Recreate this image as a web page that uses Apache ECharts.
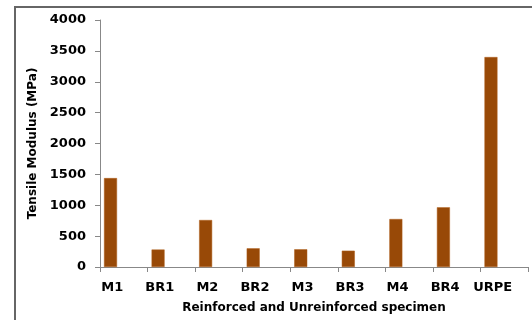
<!DOCTYPE html>
<html>
<head>
<meta charset="utf-8">
<script src="https://cdn.jsdelivr.net/npm/echarts@6/dist/echarts.min.js"></script>
<style>
  html, body { margin: 0; padding: 0; background: #fff; }
  #frame { position: absolute; left: 14px; top: 6px; width: 600px; height: 400px;
           border-top: 2px solid #666; border-left: 2px solid #666; }
  #chart { position: absolute; left: 0; top: 0; width: 532px; height: 320px; }
</style>
</head>
<body>
<div id="frame"></div>
<div id="chart"></div>
<script>
// specimens and measured tensile modulus (MPa)
const specimens = ['M1', 'BR1', 'M2', 'BR2', 'M3', 'BR3', 'M4', 'BR4', 'URPE']
const modulus = [1440, 283, 761, 303, 287, 264, 777, 967, 3400]
const emptySeries = ['-', '-', '-', '-', '-', '-', '-', '-', '-']

const myChart = echarts.init(document.getElementById('chart'))

const axisFont = {
  fontFamily: 'DejaVu Sans',
  fontWeight: 'bold',
  fontSize: 12,
  color: '#000'
}

myChart.setOption({
  animation: false,
  grid: { left: 100, right: 4, top: 20, bottom: 53 },
  xAxis: {
    type: 'category',
    data: specimens,
    name: 'Reinforced and Unreinforced specimen',
    nameLocation: 'middle',
    nameGap: 35,
    nameTextStyle: { ...axisFont },
    axisLine: { lineStyle: { color: '#888', width: 1 } },
    axisTick: { show: true, length: 5, interval: 0, lineStyle: { color: '#888' } },
    axisLabel: {
      ...axisFont,
      fontSize: 13,
      margin: 14,
      interval: 0,
      padding: [0, 23, 0, 0]
    }
  },
  yAxis: {
    type: 'value',
    min: 0,
    max: 4000,
    interval: 500,
    name: 'Tensile Modulus (MPa)',
    nameLocation: 'middle',
    nameGap: 58,
    nameTextStyle: { ...axisFont },
    axisLine: { show: true, lineStyle: { color: '#888', width: 1 } },
    axisTick: { show: true, length: 5, lineStyle: { color: '#888' } },
    splitLine: { show: false },
    axisLabel: {
      ...axisFont,
      fontSize: 13,
      margin: 14,
      formatter: (v) => String(v)
    }
  },
  series: [
    {
      type: 'bar',
      data: modulus,
      barWidth: 13,
      barGap: '104%',
      itemStyle: { color: '#984907', borderColor: '#b0601c', borderWidth: 0.5 }
    },
    {
      type: 'bar',
      data: emptySeries,
      barWidth: 13
    }
  ]
})
</script>
</body>
</html>
